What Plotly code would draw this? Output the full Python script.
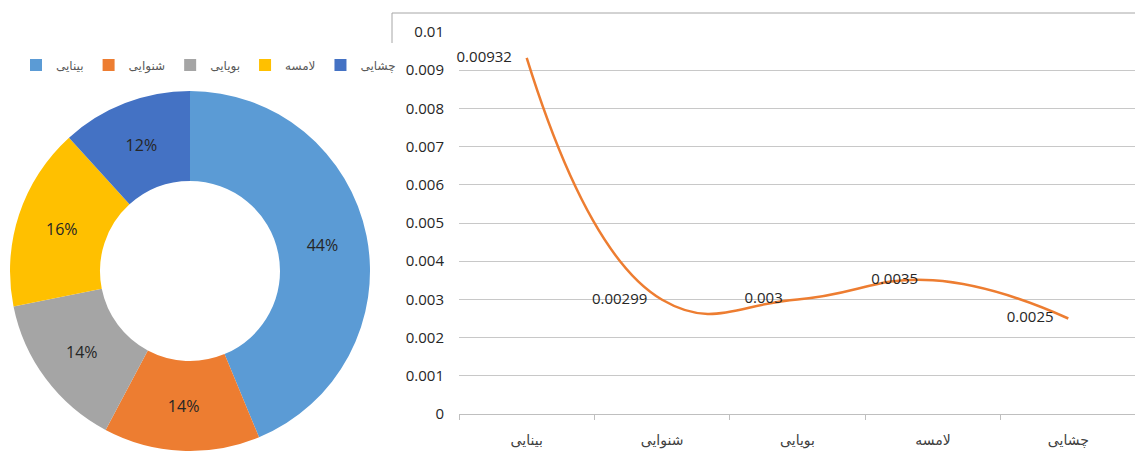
import plotly.graph_objects as go

# page has an 8px body margin, so the figure is drawn 8px right/down
OFF = 8
W, H = 1143 - OFF, 452 - OFF

categories = ["بینایی", "شنوایی", "بویایی", "لامسه", "چشایی"]
values = [0.00932, 0.00299, 0.003, 0.0035, 0.0025]
value_labels = ["0.00932", "0.00299", "0.003", "0.0035", "0.0025"]
colors = ["#5B9BD5", "#ED7D31", "#A5A5A5", "#FFC000", "#4472C4"]
ytick_vals = [0, 0.001, 0.002, 0.003, 0.004, 0.005, 0.006, 0.007, 0.008, 0.009, 0.01]
ytick_text = ["0", "0.001", "0.002", "0.003", "0.004", "0.005", "0.006", "0.007", "0.008", "0.009", "0.01"]

def px_x(x):
    return (x - OFF) / W

def px_y(y):
    return 1 - (y - OFF) / H

fig = go.Figure()

fig.add_trace(go.Pie(
    labels=categories,
    values=values,
    sort=False,
    direction="clockwise",
    rotation=0,
    hole=0.5,
    marker=dict(colors=colors, line=dict(width=0)),
    texttemplate="%{percent:.0%}",
    textposition="inside",
    insidetextorientation="horizontal",
    textfont=dict(family="Open Sans", size=16, color="#262626"),
    domain=dict(x=[px_x(10), px_x(370)], y=[0, px_y(90)]),
    showlegend=True,
    hoverinfo="label+percent",
))

fig.add_trace(go.Scatter(
    x=categories,
    y=values,
    mode="lines+markers+text",
    line=dict(color="#ED7D31", width=2.5, shape="spline", smoothing=1.3),
    marker=dict(size=22, color="rgba(0,0,0,0)"),
    text=value_labels,
    textposition="middle left",
    textfont=dict(family="Open Sans", size=15, color="#262626"),
    showlegend=False,
    cliponaxis=False,
))

fig.update_layout(
    width=W, height=H,
    margin=dict(l=0, r=0, t=0, b=0, autoexpand=False),
    paper_bgcolor="white",
    plot_bgcolor="white",
    legend=dict(
        orientation="h",
        x=px_x(16), y=px_y(65), xanchor="left", yanchor="middle",
        font=dict(family="DejaVu Sans", size=12, color="#595959"),
        itemwidth=30,
        bgcolor="rgba(0,0,0,0)",
    ),
    xaxis=dict(
        domain=[px_x(459), px_x(1136)],
        type="category",
        range=[-0.5, len(categories) - 0.5],
        tickson="boundaries",
        ticks="outside",
        ticklen=5,
        tickcolor="#bfbfbf",
        showline=True,
        linecolor="#bfbfbf",
        linewidth=1,
        showgrid=False,
        tickfont=dict(family="DejaVu Sans", size=14, color="#404040"),
        ticklabelstandoff=13,
        fixedrange=True,
    ),
    yaxis=dict(
        domain=[px_y(414), px_y(32)],
        range=[0, 0.01],
        tickvals=ytick_vals,
        ticktext=ytick_text,
        showgrid=True,
        gridcolor="#c8c8c8",
        gridwidth=1,
        zeroline=False,
        showline=False,
        ticks="",
        tickfont=dict(family="Open Sans", size=15, color="#262626"),
        ticklabelstandoff=14,
        fixedrange=True,
    ),
    shapes=[
        dict(type="line", xref="paper", yref="paper",
             x0=px_x(392), x1=1, y0=px_y(13), y1=px_y(13),
             line=dict(color="#a6a6a6", width=1)),
        dict(type="line", xref="paper", yref="paper",
             x0=px_x(392), x1=px_x(392), y0=px_y(13), y1=px_y(43),
             line=dict(color="#a6a6a6", width=1)),
    ],
)

fig.write_html("out.html")
